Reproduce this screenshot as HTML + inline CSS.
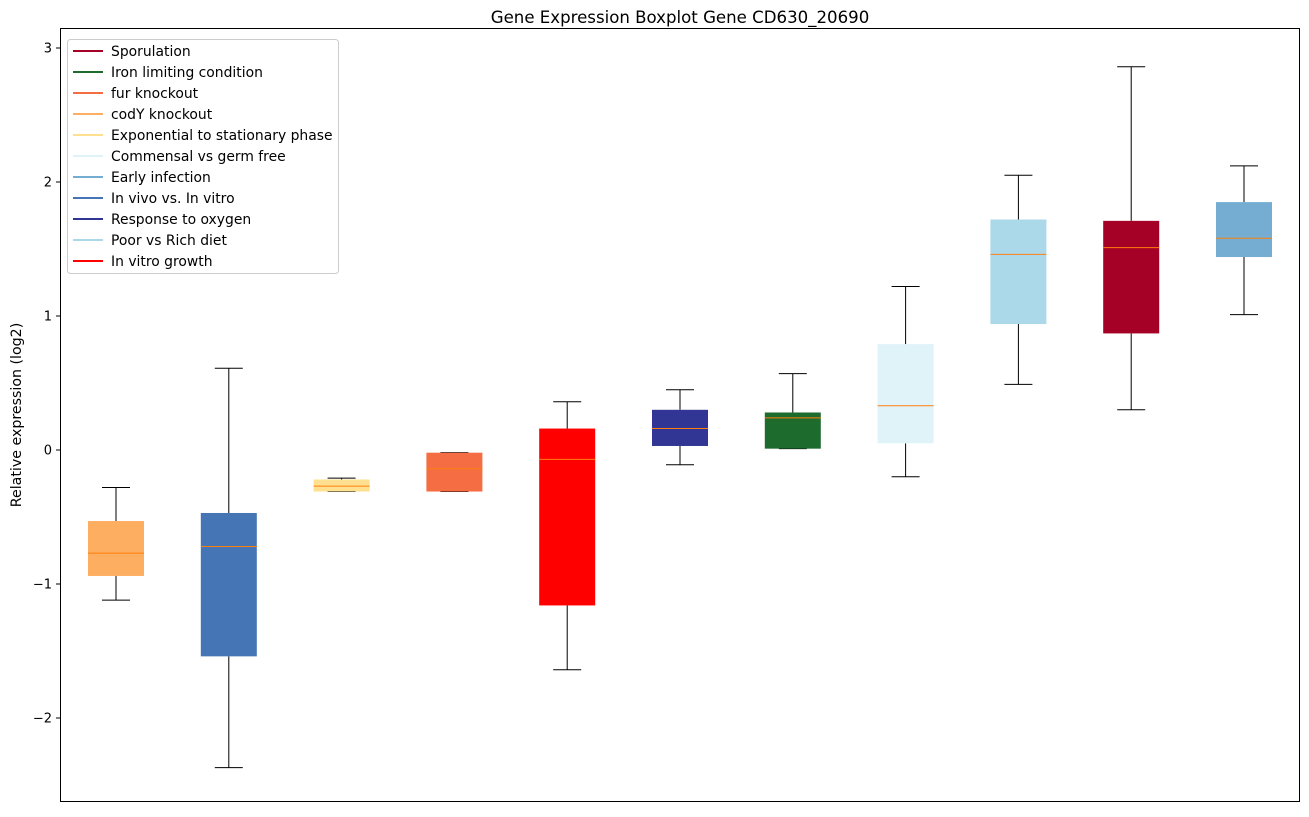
<!DOCTYPE html>
<html><head><meta charset="utf-8"><style>
body{margin:0;background:#fff;font-family:"Liberation Sans","DejaVu Sans",sans-serif;}
</style></head><body>
<svg width="1309" height="812" xmlns="http://www.w3.org/2000/svg" font-family="DejaVu Sans, Liberation Sans, sans-serif">
<text x="680" y="23" text-anchor="middle" font-size="16.6">Gene Expression Boxplot Gene CD630_20690</text>
<g id="boxes"></g>
<rect x="60.5" y="28.5" width="1239" height="773" fill="none" stroke="#000"/>
<g id="yticks"></g>
<text transform="translate(21,415) rotate(-90)" text-anchor="middle" font-size="14.2">Relative expression (log2)</text>
<g id="legend"></g>
</svg>
<script>
const categories=["codY knockout","In vivo vs. In vitro","Exponential to stationary phase","fur knockout","In vitro growth","Response to oxygen","Iron limiting condition","Commensal vs germ free","Poor vs Rich diet","Sporulation","Early infection"];
const colors=["#fdae61","#4575b4","#fee090","#f46d43","#ff0000","#313695","#1e6b2e","#e0f3f8","#abd9e9","#a50026","#74add1"];
const whiskLow=[-1.12,-2.37,-0.31,-0.31,-1.64,-0.11,0.01,-0.20,0.49,0.30,1.01];
const q1=[-0.94,-1.54,-0.31,-0.31,-1.16,0.03,0.01,0.05,0.94,0.87,1.44];
const medians=[-0.77,-0.72,-0.27,-0.14,-0.07,0.16,0.24,0.33,1.46,1.51,1.58];
const q3=[-0.53,-0.47,-0.22,-0.02,0.16,0.30,0.28,0.79,1.72,1.71,1.85];
const whiskHigh=[-0.28,0.61,-0.21,-0.02,0.36,0.45,0.57,1.22,2.05,2.86,2.12];
const yTicks=[-2,-1,0,1,2,3];
const legendLabels=["Sporulation","Iron limiting condition","fur knockout","codY knockout","Exponential to stationary phase","Commensal vs germ free","Early infection","In vivo vs. In vitro","Response to oxygen","Poor vs Rich diet","In vitro growth"];
const legendColors=["#a50026","#1e6b2e","#f46d43","#fdae61","#fee090","#e0f3f8","#74add1","#4575b4","#313695","#abd9e9","#ff0000"];
const NS="http://www.w3.org/2000/svg";
function y(v){return 450-v*134;}
function x(i){return 116+i*112.8;}
function mk(tag,attrs,parent){const e=document.createElementNS(NS,tag);for(const k in attrs)e.setAttribute(k,attrs[k]);parent.appendChild(e);return e;}
const gb=document.getElementById('boxes');
categories.forEach((c,i)=>{
  const g=mk('g',{},gb);
  
  
  const cx=x(i),hw=28,cw=14;
  mk('line',{x1:cx,x2:cx,y1:y(whiskHigh[i]),y2:y(q3[i]),stroke:'#000'},g);
  mk('line',{x1:cx,x2:cx,y1:y(q1[i]),y2:y(whiskLow[i]),stroke:'#000'},g);
  mk('line',{x1:cx-cw,x2:cx+cw,y1:y(whiskHigh[i]),y2:y(whiskHigh[i]),stroke:'#000'},g);
  mk('line',{x1:cx-cw,x2:cx+cw,y1:y(whiskLow[i]),y2:y(whiskLow[i]),stroke:'#000'},g);
  mk('rect',{x:cx-hw,y:y(q3[i]),width:2*hw,height:Math.max(1,y(q1[i])-y(q3[i])),fill:colors[i]},g);
  mk('line',{x1:cx-hw,x2:cx+hw,y1:y(medians[i]),y2:y(medians[i]),stroke:'#ff7f0e'},g);
});
const gy=document.getElementById('yticks');
yTicks.forEach(t=>{
  mk('line',{x1:56,x2:60,y1:y(t),y2:y(t),stroke:'#000'},gy);
  const tx=mk('text',{x:52,y:y(t)+4.5,'text-anchor':'end','font-size':'13'},gy);
  tx.textContent=(t<0?'\u2212'+(-t):t);
  
  
});
const gl=document.getElementById('legend');
mk('rect',{x:67.5,y:39.5,width:271,height:234,fill:'#fff',stroke:'#ccc',rx:3},gl);
legendLabels.forEach((l,i)=>{
  const gy2=51+i*21;
  const g=mk('g',{},gl);
  
  
  mk('line',{x1:73,x2:103,y1:gy2,y2:gy2,stroke:legendColors[i],'stroke-width':2},g);
  const t=mk('text',{x:111,y:gy2+5,'font-size':'13.9'},g);
  t.textContent=l;
});
</script>
</body></html>
